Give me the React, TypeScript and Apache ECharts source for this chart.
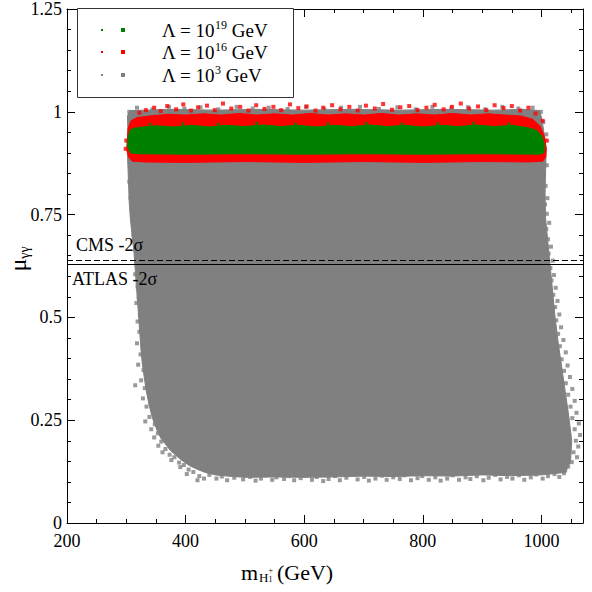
import React, { useEffect, useRef } from "react";
import * as echarts from "echarts";

const FONT = "Liberation Serif";

// axis ranges / ticks
const xRange = [200, 1070];
const xTickStep = 200;
const yRange = [0, 1.25];
const yTickStep = 0.25;

// reference lines
const cmsLine = 0.64;
const atlasLine = 0.63;

// dense region outlines (m_H, mu)
const grayRegion: [number, number][] = [
  [303, 0.94], [302, 0.99], [306, 1.003], [330, 1.004], [380, 1.006], [450, 1.004], [520, 1.006],
  [600, 1.004], [680, 1.006], [760, 1.004], [840, 1.006], [920, 1.004], [970, 1.006], [997, 1.003],
  [1001, 0.98], [1004, 0.95], [1008, 0.91], [1007, 0.86], [1006, 0.8], [1007, 0.74], [1011, 0.68],
  [1015, 0.62], [1019, 0.56], [1023, 0.5], [1028, 0.44], [1034, 0.38], [1040, 0.32], [1046, 0.26],
  [1051, 0.2], [1049, 0.15], [1040, 0.123], [1000, 0.117], [950, 0.115], [900, 0.117], [850, 0.114],
  [800, 0.115], [750, 0.113], [700, 0.114], [650, 0.112], [600, 0.111], [550, 0.112], [500, 0.111],
  [470, 0.114], [450, 0.117], [433, 0.123], [419, 0.131], [406, 0.14], [394, 0.152], [384, 0.164],
  [374, 0.177], [366, 0.192], [358, 0.207], [352, 0.225], [346, 0.247], [341, 0.272], [337, 0.297],
  [333, 0.327], [330, 0.357], [327, 0.387], [325, 0.417], [323, 0.457], [321, 0.497], [319, 0.537],
  [317, 0.577], [315, 0.617], [313, 0.657], [310, 0.697], [307, 0.737], [305, 0.777], [304, 0.817],
  [303, 0.857], [302, 0.9],
];

const grayLeftOutliers: [number, number][] = [
  [306, 0.88], [309, 0.845], [305, 0.83], [311, 0.805], [307, 0.79], [314, 0.765], [310, 0.75],
  [315, 0.73], [319, 0.715], [312, 0.7], [318, 0.685], [315, 0.665], [321, 0.65], [318, 0.638],
  [322, 0.62], [315, 0.605], [324, 0.59], [319, 0.575], [326, 0.56], [321, 0.548], [317, 0.535],
  [328, 0.52], [323, 0.505], [319, 0.49], [327, 0.478], [322, 0.465], [330, 0.45], [318, 0.437],
  [328, 0.425], [324, 0.41], [332, 0.398], [320, 0.385], [329, 0.372], [335, 0.36], [325, 0.347],
  [315, 0.335], [331, 0.328], [338, 0.315], [328, 0.303], [341, 0.29], [334, 0.283], [345, 0.27],
  [339, 0.258], [332, 0.247], [348, 0.24], [342, 0.228], [353, 0.218], [347, 0.208], [359, 0.198],
  [354, 0.188], [366, 0.18], [361, 0.172], [373, 0.166], [381, 0.16], [376, 0.153], [389, 0.147],
  [397, 0.141], [391, 0.136], [405, 0.13], [413, 0.124], [402, 0.119], [423, 0.114], [431, 0.108],
  [420, 0.104],
];

const grayBottomOutliers: [number, number][] = [
  [440, 0.117], [452, 0.108], [461, 0.113], [470, 0.104], [482, 0.11], [489, 0.117], [497, 0.106],
  [509, 0.112], [518, 0.103], [527, 0.108], [535, 0.116], [546, 0.105], [553, 0.111], [566, 0.107],
  [574, 0.114], [583, 0.104], [594, 0.109], [602, 0.116], [613, 0.105], [621, 0.112], [632, 0.102],
  [641, 0.107], [652, 0.114], [660, 0.104], [671, 0.11], [679, 0.117], [690, 0.106], [701, 0.112],
  [709, 0.103], [720, 0.108], [731, 0.115], [739, 0.105], [750, 0.111], [761, 0.107], [769, 0.116],
  [780, 0.104], [791, 0.109], [799, 0.114], [810, 0.105], [821, 0.111], [830, 0.103], [841, 0.108],
  [850, 0.116], [861, 0.105], [872, 0.111], [880, 0.107], [891, 0.114], [902, 0.104], [911, 0.11],
  [922, 0.117], [931, 0.106], [942, 0.112], [951, 0.108], [962, 0.116], [971, 0.105], [982, 0.111],
  [991, 0.118], [1002, 0.108], [1011, 0.114], [1022, 0.119], [1030, 0.112], [1038, 0.121],
];

const grayRightOutliers: [number, number][] = [
  [1003, 0.975], [1008, 0.945], [1005, 0.93], [1009, 0.87], [1004, 0.845], [1007, 0.82], [1010, 0.79],
  [1006, 0.775], [1009, 0.752], [1013, 0.73], [1008, 0.715], [1011, 0.69], [1016, 0.672], [1012, 0.655],
  [1019, 0.638], [1015, 0.62], [1021, 0.603], [1017, 0.59], [1024, 0.572], [1020, 0.555], [1027, 0.54],
  [1023, 0.525], [1030, 0.507], [1025, 0.493], [1033, 0.476], [1028, 0.46], [1037, 0.445], [1031, 0.43],
  [1041, 0.415], [1034, 0.398], [1044, 0.383], [1038, 0.37], [1048, 0.355], [1041, 0.34], [1052, 0.326],
  [1045, 0.312], [1056, 0.297], [1049, 0.283], [1059, 0.268], [1052, 0.255], [1063, 0.242], [1056, 0.228],
  [1065, 0.214], [1058, 0.2], [1062, 0.186], [1054, 0.172], [1060, 0.16], [1051, 0.148], [1045, 0.137],
  [1040, 0.128],
];

const grayTopOutliers: [number, number][] = [
  [305, 1.0], [318, 1.01], [344, 1.006], [372, 1.012], [398, 1.008], [425, 1.011], [455, 1.006],
  [486, 1.012], [513, 1.008], [540, 1.01], [572, 1.007], [603, 1.012], [634, 1.006], [662, 1.01],
  [694, 1.012], [726, 1.007], [757, 1.011], [788, 1.006], [816, 1.012], [848, 1.008], [876, 1.011],
  [905, 1.006], [934, 1.012], [961, 1.008], [985, 1.01], [999, 1.0],
];

const redRegion: [number, number][] = [
  [301, 0.92], [303, 0.96], [308, 0.978], [318, 0.986], [340, 0.99], [370, 0.994], [400, 0.992],
  [430, 0.995], [460, 0.992], [490, 0.996], [520, 0.992], [550, 0.995], [580, 0.992], [610, 0.996],
  [640, 0.992], [670, 0.995], [700, 0.992], [730, 0.996], [760, 0.992], [790, 0.995], [820, 0.992],
  [850, 0.996], [880, 0.992], [910, 0.995], [940, 0.992], [965, 0.99], [985, 0.982], [998, 0.965],
  [1005, 0.94], [1008, 0.91], [1007, 0.89], [1002, 0.88], [980, 0.878], [900, 0.879], [800, 0.877],
  [700, 0.879], [600, 0.877], [500, 0.879], [400, 0.877], [330, 0.878], [310, 0.88], [304, 0.89],
  [301, 0.905],
];

const redOutliers: [number, number][] = [
  [322, 0.998], [333, 1.004], [347, 1.01], [358, 1.002], [369, 1.014], [384, 1.006], [396, 1.018],
  [409, 1.003], [421, 1.011], [436, 1.015], [449, 1.004], [463, 1.02], [477, 1.008], [492, 1.012],
  [506, 1.003], [519, 1.016], [533, 1.007], [548, 1.012], [561, 1.004], [576, 1.018], [590, 1.009],
  [604, 1.013], [619, 1.003], [632, 1.01], [647, 1.016], [661, 1.006], [676, 1.012], [690, 1.003],
  [704, 1.015], [719, 1.008], [733, 1.019], [748, 1.005], [762, 1.011], [777, 1.014], [791, 1.004],
  [806, 1.01], [820, 1.017], [835, 1.006], [849, 1.012], [864, 1.02], [878, 1.008], [893, 1.013],
  [907, 1.004], [921, 1.016], [936, 1.009], [950, 1.014], [964, 1.003], [978, 1.01], [990, 0.996],
  [1002, 0.978], [1009, 0.93], [300, 0.93], [299, 0.91],
];

const greenRegion: [number, number][] = [
  [302, 0.915], [303, 0.94], [307, 0.957], [320, 0.962], [350, 0.966], [380, 0.963], [410, 0.967],
  [440, 0.963], [470, 0.967], [500, 0.964], [530, 0.968], [560, 0.964], [590, 0.967], [620, 0.963],
  [650, 0.967], [680, 0.964], [710, 0.968], [740, 0.964], [770, 0.967], [800, 0.963], [830, 0.967],
  [860, 0.964], [890, 0.968], [920, 0.964], [950, 0.967], [975, 0.962], [992, 0.955], [1001, 0.94],
  [1005, 0.92], [1004, 0.9], [998, 0.897], [900, 0.898], [800, 0.897], [700, 0.898], [600, 0.897],
  [500, 0.898], [400, 0.897], [320, 0.898], [307, 0.9],
];

const greenOutliers: [number, number][] = [
  [340, 0.97], [395, 0.971], [455, 0.97], [520, 0.972], [585, 0.97], [640, 0.971], [705, 0.972],
  [765, 0.97], [825, 0.971], [885, 0.972], [945, 0.97],
];

const legendLabels = ["19", "16", "3"];
const GRAY = "#808080";
const RED = "#ff0000";
const GREEN = "#008000";
const legendColors = [GREEN, RED, GRAY];

function polygonSeries(name: string, pts: [number, number][], color: string, z: number) {
  return {
    type: "custom",
    name,
    z,
    silent: true,
    clip: true,
    data: [pts[0]],
    renderItem: (_p: any, api: any) => ({
      type: "polygon",
      shape: { points: pts.map((p) => api.coord(p)) },
      style: { fill: color, stroke: color, lineWidth: 1 },
    }),
  };
}

function scatterSeries(name: string, pts: [number, number][], color: string, z: number, size = 4, extra: any = {}) {
  return {
    type: "scatter",
    name,
    z,
    silent: true,
    symbol: "rect",
    symbolSize: size,
    itemStyle: { color },
    data: pts,
    ...extra,
  };
}

const tickLine = { color: "#000", width: 1 };

function baseAxis(dim: "x" | "y", position: string, showLabel: boolean) {
  const isX = dim === "x";
  return {
    type: "value",
    min: isX ? xRange[0] : yRange[0],
    max: isX ? xRange[1] : yRange[1],
    interval: isX ? xTickStep : yTickStep,
    position,
    axisLine: { show: true, onZero: false, lineStyle: tickLine },
    axisTick: { show: true, inside: true, length: 8, lineStyle: tickLine },
    minorTick: { show: true, splitNumber: isX ? 4 : 5, length: 4, lineStyle: tickLine },
    splitLine: { show: false },
    minorSplitLine: { show: false },
    axisLabel: {
      show: showLabel,
      color: "#000",
      fontFamily: FONT,
      fontSize: 18,
      lineHeight: 14,
      margin: isX ? 11 : 5,
      showMaxLabel: isX ? false : true,
      formatter: (v: number) => String(v),
    },
  };
}

export default function App() {
  const ref = useRef<HTMLDivElement>(null);
  useEffect(() => {
    const chart = echarts.init(ref.current!, null, { renderer: "svg" });
    const legendGraphics: any[] = [
      {
        type: "rect",
        shape: { x: 77.5, y: 8.5, width: 216, height: 89 },
        style: { fill: "#fff", stroke: "#333", lineWidth: 1 },
        z: 100,
      },
    ];
    const rowsY = [30, 52, 75];
    legendLabels.forEach((sup, i) => {
      const y = rowsY[i];
      legendGraphics.push(
        { type: "rect", shape: { x: 101, y: y - 1, width: 2, height: 2 }, style: { fill: legendColors[i] }, z: 101 },
        { type: "rect", shape: { x: 121, y: y - 2, width: 4, height: 4 }, style: { fill: legendColors[i] }, z: 101 },
        {
          type: "text",
          x: 162,
          y,
          z: 101,
          style: {
            text: `{a|Λ = 10}{b|${sup}}{a| GeV}`,
            textVerticalAlign: "middle",
            rich: {
              a: { fontFamily: FONT, fontSize: 19, lineHeight: 22, fill: "#000" },
              b: { fontFamily: FONT, fontSize: 12, lineHeight: 12, verticalAlign: "top", fill: "#000" },
            },
          },
        }
      );
    });

    const option: any = {
      animation: false,
      backgroundColor: "#fff",
      grid: { left: 67, right: 9, top: 8, bottom: 69, containLabel: false },
      xAxis: [baseAxis("x", "bottom", true), baseAxis("x", "top", false)],
      yAxis: [baseAxis("y", "left", true), baseAxis("y", "right", false)],
      series: [
        polygonSeries("gray", grayRegion, GRAY, 1),
        scatterSeries("grayLeft", grayLeftOutliers, GRAY, 1, 4, {
          markLine: {
            silent: true,
            symbol: ["none", "none"],
            label: { show: false },
            z: 20,
            data: [
              { yAxis: cmsLine, lineStyle: { color: "#000", width: 1, type: [6, 3] } },
              { yAxis: atlasLine, lineStyle: { color: "#000", width: 1, type: "solid" } },
            ],
          },
        }),
        scatterSeries("grayBottom", grayBottomOutliers, GRAY, 1),
        scatterSeries("grayRight", grayRightOutliers, GRAY, 1),
        scatterSeries("grayTop", grayTopOutliers, GRAY, 1),
        polygonSeries("red", redRegion, RED, 2),
        scatterSeries("redPts", redOutliers, RED, 2),
        polygonSeries("green", greenRegion, GREEN, 3),
        scatterSeries("greenPts", greenOutliers, GREEN, 3, 3),
      ],
      graphic: [
        ...legendGraphics,
        {
          type: "text",
          x: 76,
          y: 245,
          z: 50,
          style: { text: "CMS -2σ", font: `18px ${FONT}`, fill: "#000", textVerticalAlign: "middle" },
        },
        {
          type: "text",
          x: 72,
          y: 279,
          z: 50,
          style: { text: "ATLAS -2σ", font: `18px ${FONT}`, fill: "#000", textVerticalAlign: "middle" },
        },
        { type: "text", x: 241, y: 572, style: { text: "m", font: `22px ${FONT}`, fill: "#000", textVerticalAlign: "middle" } },
        { type: "text", x: 259, y: 577, style: { text: "H", font: `13px ${FONT}`, fill: "#000", textVerticalAlign: "middle" } },
        { type: "text", x: 268.5, y: 570, style: { text: "+", font: `8px ${FONT}`, fill: "#000", textVerticalAlign: "middle" } },
        { type: "text", x: 268.5, y: 579, style: { text: "1", font: `8px ${FONT}`, fill: "#000", textVerticalAlign: "middle" } },
        { type: "text", x: 277, y: 572, style: { text: "(GeV)", font: `22px ${FONT}`, fill: "#000", textVerticalAlign: "middle" } },
        {
          type: "text",
          x: 18,
          y: 259,
          rotation: Math.PI / 2,
          style: {
            text: "{m|μ}{s|γγ}",
            textAlign: "center",
            textVerticalAlign: "middle",
            rich: {
              m: { fontFamily: FONT, fontSize: 24, lineHeight: 26, fill: "#000" },
              s: { fontFamily: FONT, fontSize: 14, lineHeight: 14, verticalAlign: "bottom", fill: "#000" },
            },
          },
        },
      ],
    };
    chart.setOption(option);
    return () => chart.dispose();
  }, []);
  return <div ref={ref} style={{ position: "fixed", left: 0, top: 0, width: 592, height: 592 }} />;
}
